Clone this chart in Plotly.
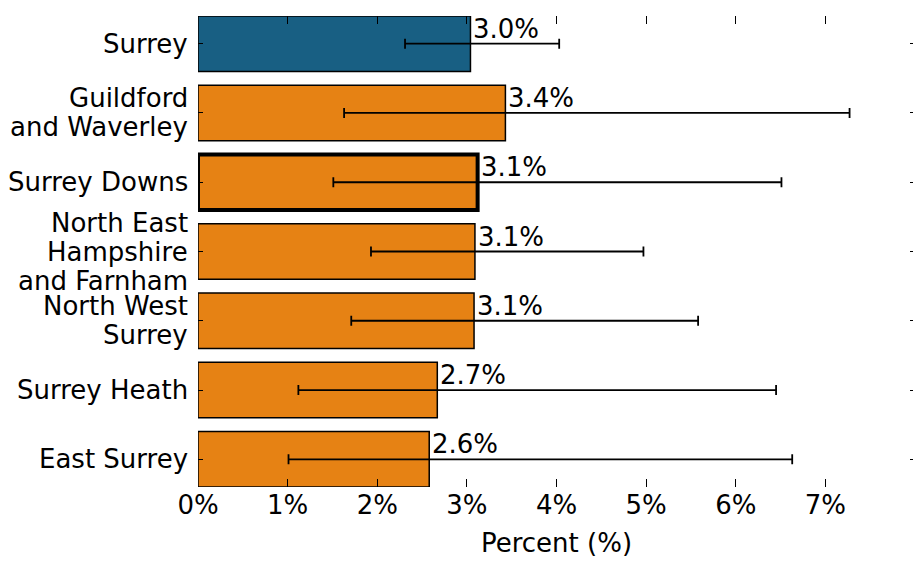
import plotly.graph_objects as go

# values (percent)
areas = ['Surrey', 'Guildford and Waverley', 'Surrey Downs',
         'North East Hampshire and Farnham', 'North West Surrey',
         'Surrey Heath', 'East Surrey']
area_lines = [['Surrey'], ['Guildford', 'and Waverley'], ['Surrey Downs'],
              ['North East', 'Hampshire', 'and Farnham'], ['North West', 'Surrey'],
              ['Surrey Heath'], ['East Surrey']]
pct = [3.04, 3.43, 3.12, 3.09, 3.08, 2.67, 2.58]
ci_low = [2.31, 1.63, 1.51, 1.93, 1.71, 1.12, 1.01]
ci_high = [4.03, 7.27, 6.51, 4.97, 5.58, 6.45, 6.63]
x_ticks = [0, 1, 2, 3, 4, 5, 6, 7]
x_tick_text = ['%d%%' % t for t in x_ticks]

blue = '#185f83'
orange = '#e68214'
fs = 26

colours = [blue] + [orange] * (len(areas) - 1)
outline = [4 if a == 'Surrey Downs' else 1.5 for a in areas]

fig = go.Figure()
fig.add_trace(go.Bar(
    y=areas, x=pct, orientation='h', width=0.8,
    marker=dict(color=colours, line=dict(color='black', width=outline)),
    error_x=dict(type='data', symmetric=False,
                 array=[h - p for h, p in zip(ci_high, pct)],
                 arrayminus=[p - l for l, p in zip(ci_low, pct)],
                 color='black', thickness=1.8, width=5),
    showlegend=False,
))

# value labels just right of each bar end
for a, p in zip(areas, pct):
    fig.add_annotation(x=p, y=a, text='%.1f%%' % p, showarrow=False,
                       xanchor='left', yanchor='middle', xshift=1, yshift=15,
                       font=dict(size=fs, color='black'))

# category labels, one line each so the line spacing stays tight
line_gap = 29
for a, lines in zip(areas, area_lines):
    n = len(lines)
    for i, ln in enumerate(lines):
        fig.add_annotation(x=0, xref='paper', y=a, yref='y', text=ln,
                           showarrow=False, xanchor='right', yanchor='middle',
                           xshift=-8, yshift=((n - 1) / 2 - i) * line_gap,
                           font=dict(size=fs, color='black'))

fig.update_layout(
    width=921, height=573,
    margin=dict(l=190, r=14, t=8, b=94),
    paper_bgcolor='white', plot_bgcolor='white',
    font=dict(family='DejaVu Sans', size=fs, color='black'),
)
fig.update_xaxes(range=[0, 8], tickmode='array', tickvals=x_ticks,
                 ticktext=x_tick_text, tickfont=dict(size=fs),
                 ticks='inside', ticklen=8, tickcolor='black', tickwidth=1,
                 mirror='ticks', showline=False, showgrid=False, zeroline=False,
                 title=dict(text='Percent (%)', font=dict(size=fs), standoff=14))
fig.update_yaxes(categoryorder='array', categoryarray=areas,
                 range=[6.4, -0.4], showticklabels=False,
                 ticks='inside', ticklen=5, tickcolor='black',
                 tickwidth=1, mirror='ticks', showline=False, showgrid=False,
                 zeroline=False)

fig.write_html('out.html')
